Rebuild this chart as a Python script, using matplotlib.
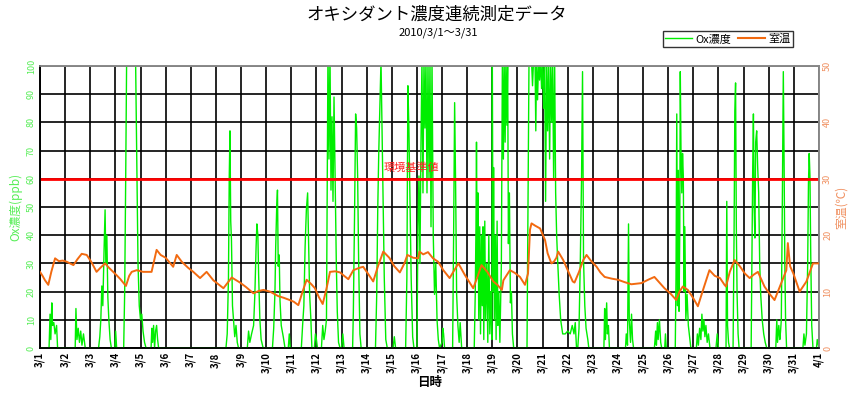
import matplotlib
matplotlib.use("Agg")
import matplotlib.pyplot as plt
from matplotlib.lines import Line2D

plt.rcParams['font.family'] = ['Noto Sans CJK JP', 'DejaVu Sans']

# ---------------- data ----------------
date_labels = ["3/%d" % d for d in range(1, 32)] + ["4/1"]

# Ox concentration (ppb): (day offset from 3/1 0:00, value)
ox_points = [
    (0.00, 0), (0.36, 0), (0.40, 12), (0.43, 3), (0.47, 16), (0.50, 8), (0.55, 9), (0.60, 5), (0.66, 8), (0.70, 0),
    (1.40, 0), (1.43, 14), (1.47, 3), (1.52, 7), (1.57, 2), (1.62, 6), (1.67, 1), (1.73, 5), (1.80, 0),
    (2.33, 0), (2.38, 4), (2.42, 10), (2.46, 22), (2.50, 15), (2.55, 35), (2.59, 49), (2.62, 30), (2.66, 40),
    (2.70, 18), (2.74, 10), (2.79, 3), (2.84, 0), (2.98, 0), (3.01, 6), (3.05, 0),
    (3.33, 0), (3.37, 20), (3.41, 60), (3.45, 105), (3.80, 105), (3.86, 60), (3.90, 30), (3.95, 15), (4.00, 10),
    (4.05, 12), (4.10, 6), (4.16, 2), (4.22, 0),
    (4.42, 0), (4.45, 7), (4.48, 2), (4.52, 8), (4.56, 0), (4.60, 6), (4.64, 8), (4.68, 3), (4.72, 0),
    (7.40, 0), (7.45, 5), (7.50, 25), (7.53, 60), (7.56, 77), (7.59, 45), (7.62, 38), (7.66, 15), (7.70, 10),
    (7.75, 4), (7.80, 8), (7.85, 2), (7.90, 0),
    (8.25, 0), (8.30, 6), (8.35, 2), (8.42, 5), (8.50, 8), (8.55, 19), (8.60, 36), (8.63, 44), (8.67, 40),
    (8.70, 26), (8.75, 10), (8.80, 3), (8.88, 0),
    (9.25, 0), (9.30, 7), (9.35, 20), (9.38, 36), (9.42, 50), (9.45, 56), (9.48, 29), (9.52, 33), (9.55, 17),
    (9.60, 8), (9.68, 4), (9.75, 0), (9.88, 0), (9.92, 5), (9.96, 0),
    (10.40, 0), (10.45, 8), (10.50, 15), (10.55, 36), (10.60, 49), (10.65, 55), (10.69, 37), (10.73, 19),
    (10.78, 10), (10.82, 0), (10.92, 0), (10.96, 5), (11.00, 3), (11.04, 0),
    (11.20, 0), (11.25, 8), (11.30, 3), (11.35, 6), (11.40, 10), (11.43, 55), (11.46, 105), (11.50, 67),
    (11.54, 105), (11.58, 56), (11.62, 82), (11.66, 52), (11.70, 89), (11.75, 57), (11.79, 31), (11.83, 13),
    (11.88, 2), (11.94, 0), (12.00, 0), (12.05, 5), (12.10, 0),
    (12.44, 0), (12.47, 13), (12.52, 49), (12.56, 83), (12.60, 78), (12.64, 61), (12.68, 31), (12.73, 5), (12.78, 0),
    (13.35, 0), (13.40, 19), (13.44, 49), (13.48, 69), (13.52, 84), (13.57, 102), (13.61, 78), (13.65, 55),
    (13.70, 25), (13.76, 3), (13.82, 0), (14.05, 0), (14.10, 4), (14.15, 0),
    (14.55, 0), (14.60, 25), (14.64, 93), (14.68, 78), (14.72, 55), (14.77, 25), (14.83, 4), (14.88, 0),
    (15.00, 0), (15.04, 43), (15.08, 61), (15.12, 30), (15.16, 72), (15.20, 102), (15.24, 55), (15.28, 102),
    (15.32, 78), (15.36, 102), (15.40, 55), (15.44, 102), (15.48, 60), (15.52, 102), (15.56, 43), (15.60, 102),
    (15.65, 40), (15.70, 19), (15.75, 30), (15.80, 10), (15.85, 3), (15.90, 0),
    (16.00, 2), (16.03, 7), (16.06, 5), (16.10, 0),
    (16.42, 0), (16.46, 40), (16.50, 87), (16.54, 57), (16.58, 19), (16.63, 8), (16.68, 2), (16.72, 9), (16.78, 0),
    (17.28, 0), (17.32, 19), (17.35, 43), (17.37, 73), (17.40, 25), (17.43, 55), (17.46, 10), (17.50, 43),
    (17.53, 5), (17.57, 40), (17.60, 15), (17.63, 43), (17.66, 3), (17.70, 45), (17.73, 10), (17.78, 30),
    (17.82, 2), (17.86, 40), (17.90, 5), (17.94, 20), (17.98, 3), (18.00, 102), (18.03, 20), (18.05, 64),
    (18.08, 10), (18.12, 40), (18.15, 3), (18.19, 45), (18.22, 8), (18.26, 20), (18.30, 2), (18.36, 30),
    (18.40, 102), (18.44, 67), (18.47, 102), (18.51, 73), (18.54, 102), (18.58, 79), (18.61, 102), (18.64, 37),
    (18.68, 55), (18.72, 16), (18.76, 20), (18.80, 5), (18.85, 0),
    (19.38, 0), (19.42, 51), (19.46, 102), (19.56, 102), (19.60, 93), (19.64, 102), (19.70, 102), (19.73, 77),
    (19.76, 102), (19.80, 88), (19.84, 102), (19.88, 95), (19.92, 102), (19.96, 92), (20.00, 102), (20.04, 85),
    (20.08, 102), (20.12, 52), (20.16, 102), (20.20, 77), (20.24, 102), (20.28, 67), (20.32, 102), (20.36, 80),
    (20.40, 102), (20.44, 60), (20.48, 102), (20.52, 55), (20.56, 40), (20.60, 31), (20.66, 19), (20.72, 10),
    (20.80, 5), (20.90, 5), (21.00, 6), (21.10, 5), (21.18, 8), (21.25, 5), (21.30, 9), (21.35, 0),
    (21.40, 0), (21.45, 7), (21.50, 30), (21.55, 60), (21.59, 98), (21.63, 31), (21.68, 15), (21.73, 7),
    (21.80, 3), (21.84, 0),
    (22.44, 0), (22.47, 14), (22.50, 3), (22.55, 16), (22.58, 5), (22.62, 8), (22.66, 0),
    (23.30, 0), (23.33, 5), (23.38, 1), (23.42, 44), (23.45, 10), (23.50, 2), (23.54, 12), (23.58, 3), (23.62, 0),
    (24.45, 0), (24.50, 6), (24.53, 1), (24.57, 9), (24.60, 3), (24.65, 10), (24.70, 2), (24.74, 0),
    (24.86, 0), (24.89, 5), (24.92, 0),
    (25.28, 0), (25.31, 25), (25.34, 83), (25.37, 15), (25.40, 63), (25.43, 13), (25.46, 43), (25.48, 98),
    (25.51, 68), (25.54, 55), (25.57, 69), (25.60, 61), (25.63, 20), (25.66, 43), (25.70, 10), (25.75, 19),
    (25.80, 8), (25.85, 4), (25.90, 0),
    (26.12, 0), (26.16, 5), (26.20, 1), (26.25, 7), (26.30, 3), (26.34, 12), (26.38, 6), (26.42, 10), (26.46, 4),
    (26.50, 8), (26.55, 2), (26.60, 5), (26.66, 0), (26.90, 0), (26.95, 5), (27.00, 0),
    (27.30, 0), (27.33, 52), (27.36, 8), (27.40, 2), (27.44, 0),
    (27.58, 0), (27.62, 40), (27.65, 84), (27.68, 94), (27.71, 43), (27.74, 19), (27.78, 5), (27.82, 0),
    (28.30, 0), (28.33, 30), (28.36, 62), (28.39, 83), (28.42, 49), (28.45, 39), (28.48, 73), (28.52, 77),
    (28.56, 64), (28.60, 55), (28.64, 30), (28.68, 19), (28.74, 10), (28.80, 5), (28.86, 2), (28.92, 0),
    (29.28, 0), (29.32, 10), (29.35, 2), (29.40, 8), (29.44, 3), (29.47, 6), (29.50, 10), (29.54, 51),
    (29.58, 98), (29.61, 67), (29.64, 30), (29.67, 10), (29.71, 0),
    (30.36, 0), (30.40, 5), (30.44, 1), (30.50, 5), (30.55, 30), (30.58, 58), (30.61, 69), (30.64, 61),
    (30.67, 34), (30.71, 8), (30.76, 0), (30.90, 0), (30.93, 3), (31.00, 0),
]
ox_day = [p[0] for p in ox_points]
ox_ppb = [p[1] for p in ox_points]

# Room temperature (deg C)
temp_points = [
    (0.00, 13.5), (0.10, 12.8), (0.20, 12.0), (0.33, 11.2), (0.45, 13.5), (0.60, 15.9), (0.75, 15.4),
    (0.90, 15.5), (1.06, 15.3), (1.20, 15.0), (1.33, 14.7), (1.50, 15.8), (1.66, 16.7), (1.86, 16.5),
    (2.05, 15.2), (2.25, 13.5), (2.40, 14.2), (2.59, 15.0), (2.75, 14.2), (3.05, 12.9), (3.20, 12.2),
    (3.42, 11.0), (3.55, 12.8), (3.65, 13.5), (3.85, 13.8), (4.10, 13.5), (4.44, 13.5), (4.64, 17.4),
    (4.80, 16.5), (5.00, 16.0), (5.30, 14.4), (5.44, 16.5), (5.64, 15.3), (5.90, 14.2), (6.10, 13.5),
    (6.37, 12.4), (6.63, 13.5), (6.90, 12.0), (7.30, 10.6), (7.63, 12.5), (7.96, 11.6), (8.20, 10.8),
    (8.49, 9.7), (8.70, 10.1), (8.89, 10.3), (9.15, 10.0), (9.48, 9.2), (9.70, 8.9), (9.88, 8.6),
    (10.10, 8.2), (10.28, 7.6), (10.45, 10.0), (10.61, 12.1), (10.80, 11.3), (10.94, 10.6), (11.10, 9.0),
    (11.25, 7.8), (11.40, 10.5), (11.54, 13.5), (11.75, 13.6), (11.94, 13.4), (12.10, 12.8), (12.27, 12.2),
    (12.47, 13.8), (12.70, 14.2), (12.86, 14.4), (13.05, 13.2), (13.26, 11.8), (13.45, 14.5), (13.66, 17.1),
    (13.90, 16.0), (14.10, 14.5), (14.32, 13.4), (14.50, 15.0), (14.62, 16.5), (14.85, 16.0), (15.05, 15.9),
    (15.10, 17.1), (15.25, 16.6), (15.44, 17.0), (15.64, 15.9), (15.84, 15.3), (16.05, 13.8), (16.30, 12.4),
    (16.45, 13.5), (16.65, 15.0), (16.90, 13.0), (17.10, 11.6), (17.24, 10.6), (17.40, 12.5), (17.57, 14.7),
    (17.80, 13.5), (18.04, 11.8), (18.20, 11.2), (18.38, 10.3), (18.44, 12.0), (18.70, 13.8), (18.90, 13.3),
    (19.10, 12.6), (19.30, 11.2), (19.42, 13.2), (19.50, 21.0), (19.56, 22.1), (19.70, 21.7), (19.90, 21.2),
    (20.10, 19.1), (20.20, 16.8), (20.35, 15.0), (20.45, 15.3), (20.55, 16.0), (20.62, 17.1), (20.82, 15.6),
    (21.00, 13.8), (21.20, 11.8), (21.27, 11.6), (21.45, 13.5), (21.62, 15.6), (21.75, 16.5), (21.90, 15.6),
    (22.15, 14.4), (22.30, 13.4), (22.47, 12.6), (22.75, 12.3), (23.00, 12.1), (23.25, 11.7), (23.53, 11.3),
    (23.75, 11.4), (23.93, 11.5), (24.20, 12.1), (24.45, 12.6), (24.65, 11.6), (24.85, 10.6), (25.10, 9.6),
    (25.32, 8.5), (25.45, 10.0), (25.58, 10.9), (25.78, 10.3), (26.00, 8.8), (26.18, 7.4), (26.40, 10.5),
    (26.64, 13.8), (26.85, 12.8), (27.06, 12.4), (27.24, 11.2), (27.30, 10.9), (27.45, 13.5), (27.64, 15.6),
    (27.85, 14.5), (28.05, 13.2), (28.24, 12.4), (28.40, 13.0), (28.57, 13.5), (28.83, 10.9), (29.05, 9.5),
    (29.23, 8.5), (29.45, 11.0), (29.70, 13.8), (29.76, 18.6), (29.85, 14.5), (29.98, 13.2), (30.23, 10.0),
    (30.35, 10.8), (30.50, 11.8), (30.76, 15.0), (31.00, 15.0),
]
temp_day = [p[0] for p in temp_points]
temp_c = [p[1] for p in temp_points]

standard_ppb = 60

# ---------------- figure ----------------
GREEN = "#00EE00"
ORANGE = "#F26A10"
LGREEN = "#55EE55"
LORANGE = "#F09060"
fig = plt.figure(figsize=(8.56, 3.99), dpi=100)
ax = fig.add_axes([40 / 856, 51 / 399, 779 / 856, 282 / 399])
ax2 = ax.twinx()

ax.set_xlim(0, 31)
ax.set_ylim(0, 100)
ax2.set_ylim(0, 50)

ax.set_xticks(range(len(date_labels)))
ax.set_xticklabels(date_labels, rotation=90, fontsize=7, fontweight="bold")
ax.set_yticks(range(0, 101, 10))
ax.set_yticklabels([str(v) for v in range(0, 101, 10)], rotation=90, fontsize=6.5,
                   color=LGREEN, va="center")
ax2.set_yticks(range(0, 51, 10))
ax2.set_yticklabels([str(v) for v in range(0, 51, 10)], rotation=90, fontsize=6.5,
                    color=LORANGE, va="center")
ax.tick_params(axis="both", length=0, pad=3)
ax2.tick_params(axis="y", length=0, pad=3)

ax.grid(True, color="black", linewidth=1.2)
ax.set_axisbelow(True)
for sp in ["top", "right"]:
    ax.spines[sp].set_color("#888888")
    ax2.spines[sp].set_color("#888888")
ax.spines["left"].set_color("black")
ax.spines["bottom"].set_color("black")
for a in (ax, ax2):
    for sp in a.spines.values():
        sp.set_linewidth(1.2)

ax.plot(ox_day, ox_ppb, color=GREEN, linewidth=1.0, zorder=3)
ax.axhline(standard_ppb, color="#FF0000", linewidth=2.0, zorder=4)
ax.text(14.8, standard_ppb + 2, "環境基準値", color="#FF2020", fontsize=8, ha="center", va="bottom", zorder=5)
ax2.plot(temp_day, temp_c, color=ORANGE, linewidth=1.4, zorder=3)

ax.set_ylabel("Ox濃度(ppb)", color=LGREEN, fontsize=8.5, labelpad=3)
ax2.set_ylabel("室温(℃)", color=LORANGE, fontsize=8.5, labelpad=2)
ax.set_xlabel("日時", fontsize=9, fontweight="bold", labelpad=2)

fig.text(437 / 856, 1 - 15 / 399, "オキシダント濃度連続測定データ", fontsize=12.5, ha="center", va="center")
fig.text(438 / 856, 1 - 33 / 399, "2010/3/1～3/31", fontsize=8, ha="center", va="center")

handles = [Line2D([], [], color=GREEN, linewidth=1.0), Line2D([], [], color=ORANGE, linewidth=1.5)]
leg = fig.legend(handles, ["Ox濃度", "室温"], loc="upper right", bbox_to_anchor=(793 / 856, 1 - 31 / 399),
                 ncol=2, fontsize=8, frameon=True, fancybox=False, edgecolor="black",
                 handlelength=2.4, handletextpad=0.3, columnspacing=0.6, borderpad=0.25,
                 borderaxespad=0)
leg.get_frame().set_linewidth(1.0)

fig.savefig("out.png", dpi=100)
